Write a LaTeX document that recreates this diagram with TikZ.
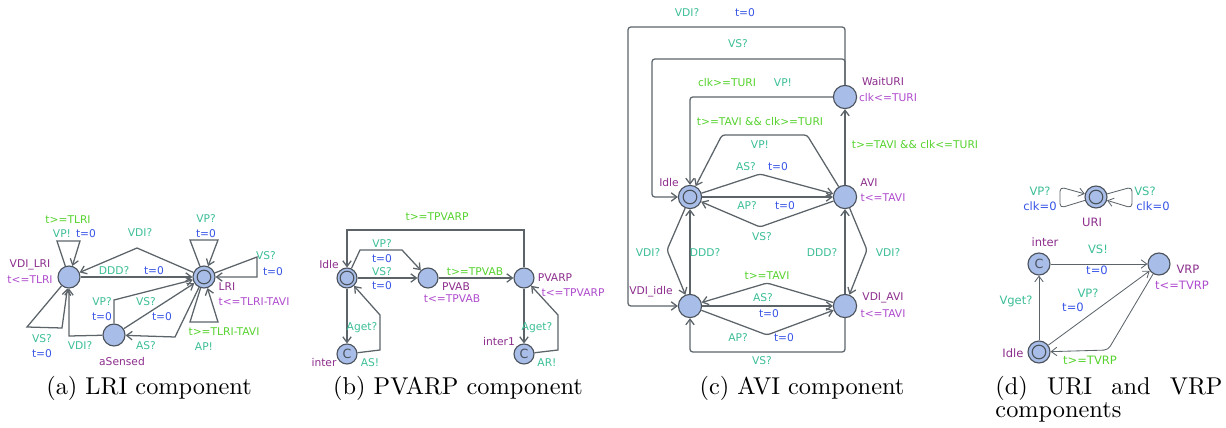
\documentclass[tikz,border=0pt]{standalone}
\usepackage{fontspec}
\newfontfamily\uppfont{DejaVu Sans}
\usetikzlibrary{arrows.meta}
\definecolor{nodefill}{RGB}{168,190,232}
\definecolor{stroke}{RGB}{75,82,92}
\definecolor{edgecol}{RGB}{92,100,106}
\definecolor{namecol}{RGB}{140,45,140}
\definecolor{invcol}{RGB}{175,75,205}
\definecolor{synccol}{RGB}{60,190,150}
\definecolor{updcol}{RGB}{55,85,230}
\definecolor{guardcol}{RGB}{85,210,45}
\begin{document}
\begin{tikzpicture}[x=0.025cm, y=-0.025cm,
  st/.style={circle, draw=stroke, fill=nodefill, line width=0.8pt, minimum size=0.55cm, inner sep=0pt},
  init/.style={st, path picture={\draw[stroke, line width=0.8pt] (path picture bounding box.center) circle (0.17cm);}},
  com/.style={st, text=stroke, font=\uppfont\fontsize{9}{9}\selectfont},
  tr/.style={draw=edgecol, line width=0.9pt, -{Straight Barb[length=4pt,width=6pt]}},
  lbl/.style={inner sep=0pt, font=\uppfont\fontsize{7.6}{8}\selectfont},
  lname/.style={lbl, text=namecol},
  linv/.style={lbl, text=invcol},
  lsync/.style={lbl, text=synccol},
  lupd/.style={lbl, text=updcol},
  lguard/.style={lbl, text=guardcol},
  capt/.style={inner sep=0pt, font=\fontsize{10}{12}\selectfont, scale=1.73}]
\useasboundingbox (0,0) rectangle (1226,428);
% (a) LRI
\node[st] (vdilri) at (69,277) {};
\node[init] (lri) at (204,277) {};
\node[st] (asensed) at (114,335) {};
\draw[tr] (vdilri) -- (57,241) -- (80,241) -- (vdilri);
\draw[tr] (vdilri) -- (27,327) -- (62,328) -- (vdilri);
\draw[tr] (lri) -- (190,240) -- (218,240) -- (lri);
\draw[tr] (lri) -- (257,257) -- (257,277) -- (lri);
\draw[tr] (lri) -- (190,322) -- (218,322) -- (lri);
\draw[tr] (lri) -- (137,248) -- (vdilri);
\draw[tr] (vdilri) -- (lri);
\draw[tr] (asensed) -- (114,300) -- (lri);
\draw[tr] (asensed) -- (lri);
\draw[tr] (lri) -- (175,337) -- (asensed);
\draw[tr] (asensed) -- (69,336) -- (vdilri);
\node[lguard] at (68,220) {t>=TLRI};
\node[lsync] at (62,234) {VP!};
\node[lupd] at (86,234) {t=0};
\node[lsync] at (140,233) {VDI?};
\node[lsync] at (206,219) {VP?};
\node[lupd] at (206,234) {t=0};
\node[lsync] at (266,256) {VS?};
\node[lupd] at (273,272) {t=0};
\node[lsync] at (114,271) {DDD?};
\node[lupd] at (154,271) {t=0};
\node[lname] at (30,265) {VDI\_LRI};
\node[linv] at (30,280) {t<=TLRI};
\node[lname] at (227,287) {LRI};
\node[linv] at (254,302) {t<=TLRI-TAVI};
\node[lsync] at (102,302) {VP?};
\node[lupd] at (102,317) {t=0};
\node[lsync] at (146,302) {VS?};
\node[lupd] at (162,317) {t=0};
\node[lsync] at (42,339) {VS?};
\node[lupd] at (42,354) {t=0};
\node[lsync] at (80,346) {VDI?};
\node[lsync] at (146,346) {AS?};
\node[lguard] at (224,332) {t>=TLRI-TAVI};
\node[lsync] at (204,347) {AP!};
\node[lname] at (122,362) {aSensed};
% (b) PVARP
\node[init, minimum size=0.5cm] (idleb) at (347,278) {};
\node[st, minimum size=0.5cm] (pvab) at (428,278) {};
\node[st, minimum size=0.5cm] (pvarp) at (524,278) {};
\node[com, minimum size=0.5cm] (interb) at (347,354) {C};
\node[com, minimum size=0.5cm] (inter1) at (524,354) {C};
\draw[tr] (pvarp) -- (524,230) -- (347,230) -- (idleb);
\draw[tr] (idleb) -- (360,250) -- (402,250) -- (pvab);
\draw[tr] (idleb) -- (pvab);
\draw[tr] (pvab) -- (pvarp);
\draw[tr] (idleb) -- (interb);
\draw[tr] (interb) -- (380,350) -- (380,315) -- (idleb);
\draw[tr] (pvarp) -- (inter1);
\draw[tr] (inter1) -- (558,350) -- (558,315) -- (pvarp);
\node[lguard] at (437,217) {t>=TPVARP};
\node[lsync] at (382,244) {VP?};
\node[lupd] at (382,259) {t=0};
\node[lsync] at (382,272) {VS?};
\node[lupd] at (382,286) {t=0};
\node[lguard] at (475,272) {t>=TPVAB};
\node[lname] at (456,287) {PVAB};
\node[linv] at (452,299) {t<=TPVAB};
\node[lname] at (329,265) {Idle};
\node[lname] at (555,278) {PVARP};
\node[linv] at (573,293) {t<=TPVARP};
\node[lsync] at (362,328) {Aget?};
\node[lsync] at (370,363) {AS!};
\node[lname] at (324,363) {inter};
\node[lsync] at (537,328) {Aget?};
\node[lsync] at (547,363) {AR!};
\node[lname] at (499,342) {inter1};
% (c) AVI
\node[st, minimum size=0.58cm] (waituri) at (845,97) {};
\node[init, minimum size=0.58cm] (idlec) at (690,197) {};
\node[st, minimum size=0.58cm] (avi) at (845,197) {};
\node[st, minimum size=0.58cm] (vdiidle) at (690,306) {};
\node[st, minimum size=0.58cm] (vdiavi) at (845,306) {};
\draw[tr, rounded corners=2pt] (waituri) -- (845,27) -- (628,27) -- (628,306) -- (vdiidle);
\draw[tr, rounded corners=2pt] (waituri) -- (845,59) -- (652,59) -- (652,197) -- (idlec);
\draw[tr, rounded corners=2pt] (waituri) -- (690,97) -- (idlec);
\draw[tr] (avi) -- (waituri);
\draw[tr, rounded corners=2pt] (avi) -- (807,135) -- (722,135) -- (idlec);
\draw[tr, rounded corners=2pt] (idlec) -- (760,174) -- (avi);
\draw[tr] (idlec) -- (avi);
\draw[tr, rounded corners=2pt] (avi) -- (760,227) -- (idlec);
\draw[tr, rounded corners=2pt] (idlec) -- (667,250) -- (vdiidle);
\draw[tr] (vdiidle) -- (idlec);
\draw[tr, rounded corners=2pt] (avi) -- (867,250) -- (vdiavi);
\draw[tr] (vdiavi) -- (avi);
\draw[tr, rounded corners=2pt] (vdiavi) -- (767,283) -- (vdiidle);
\draw[tr] (vdiidle) -- (vdiavi);
\draw[tr, rounded corners=2pt] (vdiidle) -- (767,335) -- (vdiavi);
\draw[tr, rounded corners=2pt] (vdiavi) -- (845,352) -- (690,352) -- (vdiidle);
\node[lsync] at (687,13) {VDI?};
\node[lupd] at (745,13) {t=0};
\node[lsync] at (738,44) {VS?};
\node[lguard] at (727,83) {clk>=TURI};
\node[lsync] at (783,83) {VP!};
\node[lname] at (883,82) {WaitURI};
\node[linv] at (888,98) {clk<=TURI};
\node[lguard] at (915,145) {t>=TAVI \&\& clk<=TURI};
\node[lguard] at (760,122) {t>=TAVI \&\& clk>=TURI};
\node[lsync] at (760,145) {VP!};
\node[lsync] at (746,167) {AS?};
\node[lupd] at (778,167) {t=0};
\node[lsync] at (747,206) {AP?};
\node[lupd] at (785,206) {t=0};
\node[lsync] at (762,237) {VS?};
\node[lname] at (669,183) {Idle};
\node[lname] at (869,183) {AVI};
\node[linv] at (883,198) {t<=TAVI};
\node[lsync] at (648,253) {VDI?};
\node[lsync] at (705,253) {DDD?};
\node[lsync] at (888,253) {VDI?};
\node[lsync] at (822,253) {DDD?};
\node[lguard] at (767,276) {t>=TAVI};
\node[lsync] at (763,298) {AS?};
\node[lupd] at (769,314) {t=0};
\node[lsync] at (738,338) {AP?};
\node[lupd] at (784,338) {t=0};
\node[lsync] at (762,361) {VS?};
\node[lname] at (651,292) {VDI\_idle};
\node[lname] at (883,298) {VDI\_AVI};
\node[linv] at (883,314) {t<=TAVI};
% (d) URI and VRP
\begin{scope}[tr/.append style={line width=0.6pt}, lbl/.append style={font=\uppfont\fontsize{8.2}{9}\selectfont}]
\node[init] (uri) at (1096,197) {};
\node[com] (interd) at (1039,264) {C};
\node[st] (vrp) at (1159,264) {};
\node[init] (idled) at (1039,352) {};
\draw[tr, rounded corners=3pt] (uri) -- (1060,208) -- (1060,187) -- (uri);
\draw[tr, rounded corners=3pt] (uri) -- (1132,187) -- (1132,208) -- (uri);
\draw[tr] (interd) -- (vrp);
\draw[tr] (idled) -- (interd);
\draw[tr] (idled) -- (vrp);
\draw[tr, rounded corners=3pt] (vrp) -- (1108,350) -- (idled);
\node[lsync] at (1040,191) {VP?};
\node[lupd] at (1040,206) {clk=0};
\node[lsync] at (1145,191) {VS?};
\node[lupd] at (1153,206) {clk=0};
\node[lname] at (1092,222) {URI};
\node[lsync] at (1098,249) {VS!};
\node[lupd] at (1097,270) {t=0};
\node[lsync] at (1016,301) {Vget?};
\node[lsync] at (1088,293) {VP?};
\node[lupd] at (1073,307) {t=0};
\node[lguard] at (1090,360) {t>=TVRP};
\node[lname] at (1045,242) {inter};
\node[lname] at (1188,269) {VRP};
\node[linv] at (1182,285) {t<=TVRP};
\node[lname] at (1013,353) {Idle};
\end{scope}
% captions
\node[capt] (capa) at (149,388) {(a) LRI component};
\node[capt] (capb) at (458,388) {(b) PVARP component};
\node[capt] (capc) at (802,388) {(c) AVI component};
\node[capt, anchor=west] (capd) at (995,388) {\makebox[3.28cm][s]{(d) URI and VRP}};
\node[capt, anchor=west] (capd2) at (995,412) {components};
\end{tikzpicture}
\end{document}
